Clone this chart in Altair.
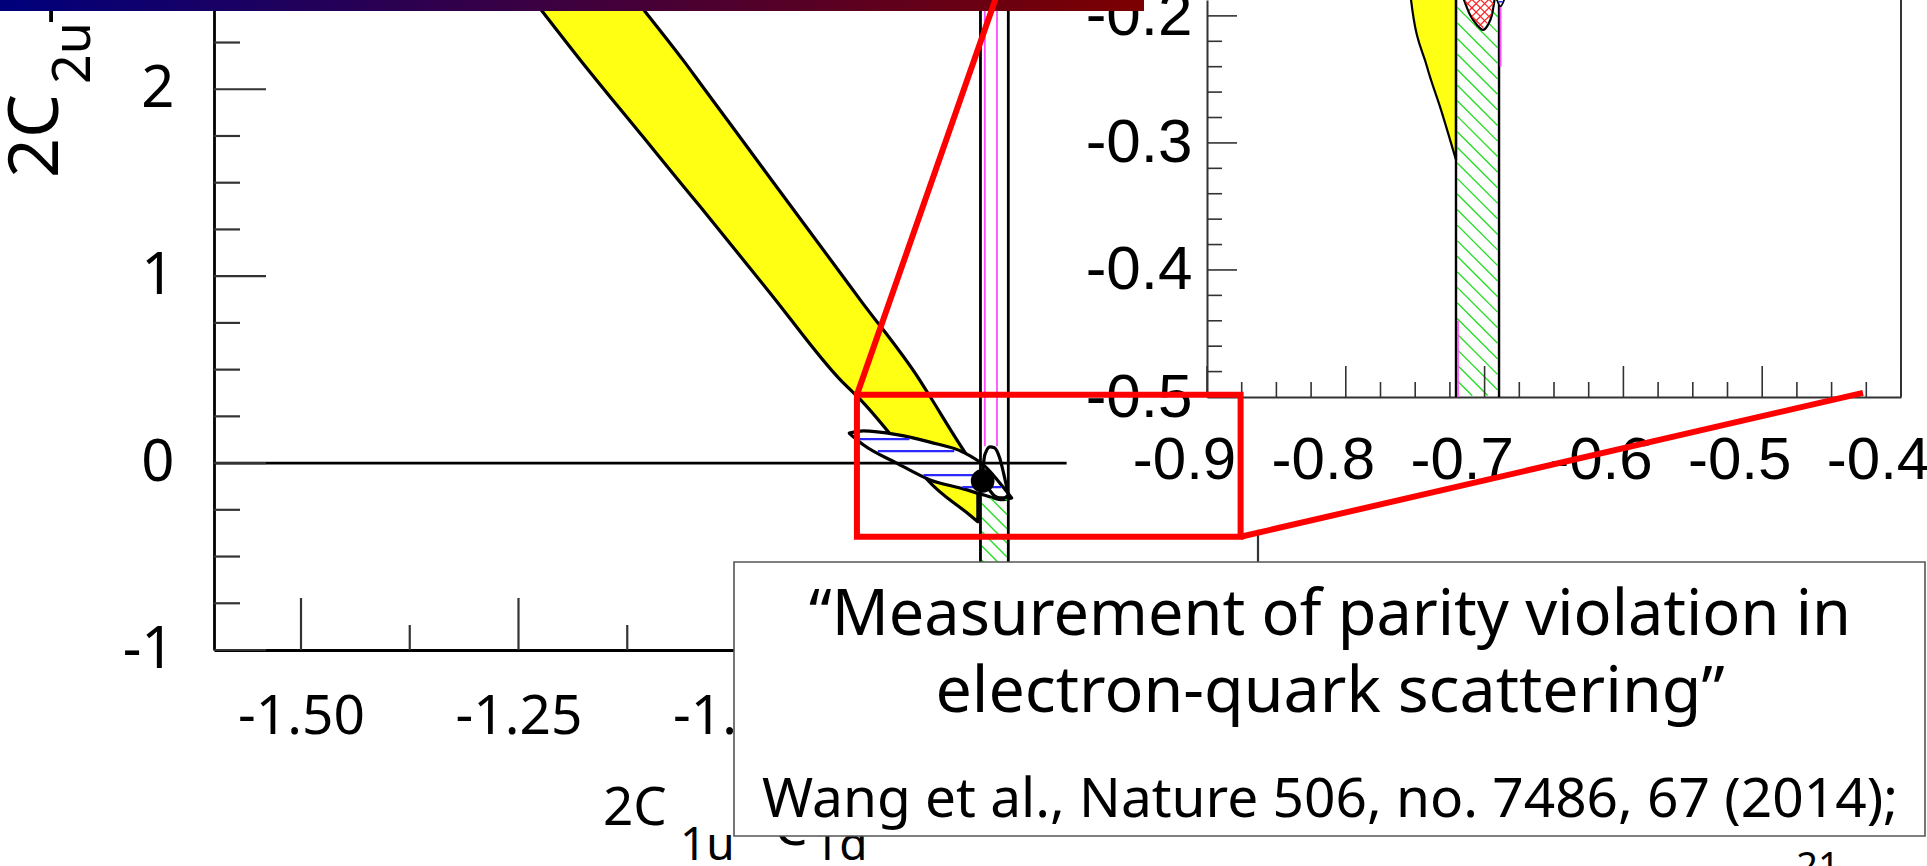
import numpy as np
import pandas as pd
import altair as alt

# ---------------- axis ranges and labelled ticks ----------------
main_x_domain = [-1.6, -0.4]
main_y_domain = [-1.0, 2.4775]
main_x_major = [-1.5, -1.25, -1.0, -0.75, -0.5]
main_y_major = [-1.0, 0.0, 1.0, 2.0]

inset_x_domain = [-0.9, -0.4]
inset_y_domain = [-0.5, -0.1875]
inset_x_major = [-0.9, -0.8, -0.7, -0.6, -0.5, -0.4]
inset_y_major = [-0.5, -0.4, -0.3, -0.2]

# ---------------- main panel regions ----------------
# yellow band: lower edge / upper edge at each x
yellow_x = [-1.26, -1.223, -1.179, -1.105, -1.061, -1.041, -0.960, -0.880, -0.857, -0.789, -0.780, -0.731, -0.722]
yellow_lo = [2.64, 2.419, 2.157, 1.735, 1.484, 1.371, 0.905, 0.445, 0.339, -0.039, -0.089, -0.279, -0.314]
yellow_hi = [3.40, 3.12, 2.85, 2.419, 2.157, 2.031, 1.52, 1.017, 0.872, 0.445, 0.379, 0.018, -0.040]

# blue hatched ellipse
blue_x = [-0.8698, -0.8537, -0.8153, -0.777, -0.7387, -0.714, -0.693, -0.6831]
blue_lo = [0.160, 0.098, 0.000, -0.090, -0.138, -0.172, -0.196, -0.187]
blue_hi = [0.160, 0.172, 0.152, 0.112, 0.058, -0.016, -0.128, -0.187]

# combined fit ellipse
fit_x = [-0.716, -0.714, -0.708, -0.703, -0.697, -0.692, -0.687]
fit_lo = [-0.025, -0.100, -0.148, -0.175, -0.186, -0.186, -0.170]
fit_hi = [-0.025, 0.044, 0.087, 0.082, 0.028, -0.063, -0.170]

# vertical band (black edges, green hatch) and the thin magenta band
band_edges = [-0.719, -0.687]
band_bottom, band_top = -1.0, 2.6
band_hatch_top = -0.18
magenta_edges = [-0.714, -0.700]
magenta_bottom = 0.09

# Standard Model point
sm_x = [-0.7165]
sm_y = [-0.0954]

# parts of the main frame left uncovered by the inset picture
zero_line_end = -0.620
right_frame_top = -0.357

# ---------------- inset regions ----------------
IN_TOP = -0.17
in_yellow_x = [-0.7535, -0.753, -0.7415, -0.7314, -0.7206]
in_yellow_lo = [-0.178, -0.1874, -0.240, -0.274, -0.3134]
in_yellow_hi = [IN_TOP] * 5
in_band_edges = [-0.7206, -0.6896]
in_red_x = [-0.7156, -0.7105, -0.7055, -0.7012, -0.6976, -0.6947, -0.6925]
in_red_lo = [-0.185, -0.1992, -0.2071, -0.2110, -0.2071, -0.1992, -0.185]
in_red_hi = [IN_TOP] * 7
in_blue_x = [-0.6915, -0.6885, -0.6855]
in_blue_lo = [-0.186, -0.1925, -0.186]
in_blue_hi = [IN_TOP] * 3
in_magenta_x = [-0.6885, -0.7192]
in_magenta_y = [-0.24, -0.5]
in_magenta_y2 = [IN_TOP, -0.44]

# ---------------- zoom annotation (main panel units) ----------------
zoom_box_x = [-0.861, -0.420]
zoom_box_y = [-0.394, 0.365]
link_x = [-0.861, -0.420]
link_y = [0.365, -0.394]
link_x2 = [-0.694, 0.2954]
link_y2 = [2.585, 0.376]

# ---------------- texts ----------------
cite_lines = ["\u201cMeasurement of parity violation in",
              "electron-quark scattering\u201d",
              "Wang et al., Nature 506, no. 7486, 67 (2014);"]
slide_number = "21"

# ---------------- layout ----------------
W, H = 1927, 866
MAIN_XR, MAIN_YR = [214, 1258], [650, 0]
INSET_XR, INSET_YR = [1207, 1901], [397, 0]
FONT = "Noto Sans"
AXFONT = "Liberation Sans"
MINUS = "replace(datum.label, '\u2212', '-')"
LW = 3.2   # contour outline width


def ppu(dom, rng):
    return abs(rng[1] - rng[0]) / abs(dom[1] - dom[0])


MSX, MSY = ppu(main_x_domain, MAIN_XR), ppu(main_y_domain, MAIN_YR)
ISX, ISY = ppu(inset_x_domain, INSET_XR), ppu(inset_y_domain, INSET_YR)

PANELS = {
    "main": (main_x_domain, MAIN_XR, main_y_domain, MAIN_YR),
    "inset": (inset_x_domain, INSET_XR, inset_y_domain, INSET_YR),
}


def sc(dom, rng):
    return alt.Scale(domain=dom, range=rng, nice=False, zero=False)


def xy(panel, xaxis=None, yaxis=None):
    xd, xr, yd, yr = PANELS[panel]
    return dict(
        x=alt.X("x", type="quantitative", scale=sc(xd, xr), axis=xaxis),
        y=alt.Y("y", type="quantitative", scale=sc(yd, yr), axis=yaxis),
    )


def rules(df, panel, color, width, xaxis=None, yaxis=None):
    return alt.Chart(df).mark_rule(color=color, strokeWidth=width, strokeCap="butt").encode(
        **xy(panel, xaxis, yaxis), x2="x2:Q", y2="y2:Q")


def region(xs, lo, hi, panel, fill, stroke="black", width=LW, interp="monotone"):
    df = pd.DataFrame({"x": xs, "y": lo, "y2": hi})
    return alt.Chart(df).mark_area(fill=fill, stroke=stroke, strokeWidth=width,
                                   interpolate=interp, strokeJoin="round").encode(
        **xy(panel), y2="y2:Q")


def hatch(xs, lo, hi, sx, sy, angle, gap, margin=1.2):
    """Hatch segments (data units) filling the region between lo and hi."""
    X = np.asarray(xs, float) * sx
    LO = np.asarray(lo, float) * sy
    HI = np.asarray(hi, float) * sy
    a = np.radians(angle)
    d = np.array([np.cos(a), np.sin(a)])
    n = np.array([-np.sin(a), np.cos(a)])
    corners = np.array([[cx, cy] for cx in (X.min(), X.max()) for cy in (LO.min(), HI.max())])
    pn, pd_ = corners @ n, corners @ d
    t = np.arange(pd_.min() - 1, pd_.max() + 1, 0.4)
    segs = []
    c = np.floor(pn.min() / gap) * gap
    while c <= pn.max():
        P = c * n[None, :] + t[:, None] * d[None, :]
        ok = (P[:, 0] >= X.min() + margin) & (P[:, 0] <= X.max() - margin)
        ok &= P[:, 1] >= np.interp(P[:, 0], X, LO) + margin
        ok &= P[:, 1] <= np.interp(P[:, 0], X, HI) - margin
        idx = np.nonzero(ok)[0]
        if len(idx) > 1:
            p0, p1 = P[idx[0]], P[idx[-1]]
            segs.append((p0[0] / sx, p0[1] / sy, p1[0] / sx, p1[1] / sy))
        c += gap
    return pd.DataFrame(segs, columns=["x", "y", "x2", "y2"])


def vlines(xs, y0, y1):
    return pd.DataFrame({"x": xs, "x2": xs, "y": [y0] * len(xs), "y2": [y1] * len(xs)})


def tick_df(vals_major, vals_minor, base, len_major, len_minor, horizontal):
    v = list(vals_major) + list(vals_minor)
    L = [len_major] * len(vals_major) + [len_minor] * len(vals_minor)
    if horizontal:   # ticks along the x axis, pointing up
        return pd.DataFrame({"x": v, "x2": v, "y": [base] * len(v), "y2": [base + l for l in L]})
    return pd.DataFrame({"x": [base] * len(v), "x2": [base + l for l in L], "y": v, "y2": v})


def axis(orient, offset, values, fmt, font, size, pad, color, width, loff=0):
    return alt.Axis(orient=orient, offset=offset, values=values, format=fmt, labelExpr=MINUS,
                    ticks=False, tickSize=0, grid=False, domainColor=color, domainWidth=width,
                    labelFont=font, labelFontSize=size, labelColor="black", labelPadding=pad,
                    labelFlush=False, labelOverlap=False, labelOffset=loff, title="")


ONE = pd.DataFrame({"k": [0]})


def pbox(x0, x1, y0, y1, **mark):
    return alt.Chart(ONE).mark_rect(**mark).encode(
        x=alt.value(x0), x2=alt.value(x1), y=alt.value(y0), y2=alt.value(y1))


def ptext(text, x, y, size, font=FONT, align="left", angle=0):
    m = dict(text=text, font=font, fontSize=size, align=align, baseline="alphabetic", color="black")
    if angle:
        m["angle"] = angle
    return alt.Chart(ONE).mark_text(**m).encode(x=alt.value(x), y=alt.value(y))


layers = []

# ---------- main panel ----------
layers.append(region(yellow_x, yellow_lo, yellow_hi, "main", "#ffff14"))
layers.append(region(blue_x, blue_lo, blue_hi, "main", "white"))
layers.append(rules(hatch(blue_x, blue_lo, blue_hi, MSX, MSY, 0, 12, margin=1.5), "main", "#2a2aff", 2.2))
layers.append(rules(hatch(band_edges, [band_bottom] * 2, [band_hatch_top] * 2, MSX, MSY, -45, 10),
                    "main", "#22dd22", 1.4))
layers.append(rules(vlines(band_edges, band_bottom, band_top), "main", "black", 2.8))
layers.append(rules(vlines(magenta_edges, magenta_bottom, band_top), "main", "#ff4dff", 1.8))
layers.append(region(fit_x, fit_lo, fit_hi, "main", "transparent"))
layers.append(rules(pd.DataFrame({"x": [main_x_domain[0]], "x2": [zero_line_end], "y": [0.0], "y2": [0.0]}),
                    "main", "black", 2.6))
layers.append(rules(vlines([main_x_domain[1]], main_y_domain[0], right_frame_top), "main", "#333333", 2.2))

mx_minor = np.round(np.arange(-1.375, -0.4, 0.25), 4)
my_minor = [v for v in np.round(np.arange(-0.75, 2.3, 0.25), 4) if abs(v - round(v)) > 1e-6]
layers.append(rules(tick_df(main_x_major, mx_minor, main_y_domain[0], 52 / MSY, 25 / MSY, True),
                    "main", "#333333", 2.2,
                    xaxis=axis("bottom", -(H - MAIN_YR[0]), main_x_major, ".2f", FONT, 55, 40, "black", 2.8)))
layers.append(rules(tick_df(main_y_major, my_minor, main_x_domain[0], 52 / MSX, 26 / MSX, False),
                    "main", "#333333", 2.2,
                    yaxis=axis("left", -MAIN_XR[0], main_y_major, "d", FONT, 58, 40, "black", 2.8)))
layers.append(alt.Chart(pd.DataFrame({"x": sm_x, "y": sm_y})).mark_circle(
    size=560, color="black", opacity=1).encode(**xy("main")))

# ---------- inset ----------
layers.append(region(in_yellow_x, in_yellow_lo, in_yellow_hi, "inset", "#ffff14", width=2.2))
layers.append(rules(hatch(in_band_edges, [-0.5, -0.5], [IN_TOP, IN_TOP], ISX, ISY, -45, 11),
                    "inset", "#22dd22", 1.3))
layers.append(rules(vlines(in_band_edges, inset_y_domain[0], IN_TOP), "inset", "black", 2.4))
layers.append(rules(pd.DataFrame({"x": in_magenta_x, "x2": in_magenta_x, "y": in_magenta_y, "y2": in_magenta_y2}),
                    "inset", "#ff4dff", 1.8))
layers.append(region(in_red_x, in_red_lo, in_red_hi, "inset", "white", width=2.2))
for ang in (45, -45):
    layers.append(rules(hatch(in_red_x, in_red_lo, in_red_hi, ISX, ISY, ang, 6), "inset", "#ff2020", 1.2))
layers.append(region(in_blue_x, in_blue_lo, in_blue_hi, "inset", "white", width=1.8))
layers.append(rules(hatch(in_blue_x, in_blue_lo, in_blue_hi, ISX, ISY, 0, 4, margin=0.5), "inset", "#2a2aff", 1.6))
layers.append(rules(vlines([inset_x_domain[1]], inset_y_domain[0], IN_TOP), "inset", "#333333", 2))

ix_minor = [v for v in np.round(np.arange(-0.875, -0.4, 0.025), 4) if abs(v * 10 - round(v * 10)) > 1e-6]
iy_minor = [v for v in np.round(np.arange(-0.48, -0.19, 0.02), 4) if abs(v * 10 - round(v * 10)) > 1e-6]
layers.append(rules(tick_df(inset_x_major, ix_minor, inset_y_domain[0], 31 / ISY, 15 / ISY, True),
                    "inset", "#333333", 1.6,
                    xaxis=axis("bottom", -(H - INSET_YR[0]), inset_x_major, ".1f", AXFONT, 60, 34, "#333333", 2, -23)))
layers.append(rules(tick_df(inset_y_major, iy_minor, inset_x_domain[0], 30 / ISX, 15 / ISX, False),
                    "inset", "#333333", 1.6,
                    yaxis=axis("left", -INSET_XR[0], inset_y_major, ".1f", AXFONT, 62, 15, "#333333", 2)))

# ---------- axis titles ----------
layers += [
    ptext("2C", 603, 825, 53),
    ptext("1u", 680, 860, 46),
    ptext("-C", 757, 845, 53),
    ptext("1d", 813, 860, 46),
    ptext("2C", 58, 178, 70, angle=270),
    ptext("2u", 90, 84, 52, angle=270),
    ptext("-", 64, 24, 50, angle=270),
]

# ---------- title bar ----------
bar_fill = alt.LinearGradient(gradient="linear", x1=0, x2=1, y1=0, y2=0,
                              stops=[alt.GradientStop(offset=0, color="#00007c"),
                                     alt.GradientStop(offset=1, color="#7c0000")])
layers.append(pbox(0, 1144, 0, 11, fill=bar_fill))

# ---------- zoom box and connectors ----------
layers.append(alt.Chart(pd.DataFrame({"x": [zoom_box_x[0]], "x2": [zoom_box_x[1]],
                                      "y": [zoom_box_y[0]], "y2": [zoom_box_y[1]]}))
              .mark_rect(filled=False, color="#ff0000", strokeWidth=6, strokeJoin="miter")
              .encode(**xy("main"), x2="x2:Q", y2="y2:Q"))
layers.append(rules(pd.DataFrame({"x": link_x, "y": link_y, "x2": link_x2, "y2": link_y2}),
                    "main", "#ff0000", 6))

# ---------- citation box ----------
layers.append(pbox(734, 1925, 562, 836, fill="white", stroke="#555555", strokeWidth=1.6))
layers += [
    ptext(cite_lines[0], 1330, 635, 63, align="center"),
    ptext(cite_lines[1], 1330, 712, 64.5, align="center"),
    ptext(cite_lines[2], 1330, 817, 55, align="center"),
    ptext(slide_number, 1818, 879, 38, align="center"),
]

chart = (
    alt.layer(*layers)
    .resolve_scale(x="independent", y="independent")
    .properties(width=W, height=H, autosize=alt.AutoSizeParams(type="none"),
                padding=0, background="white")
    .configure_view(stroke="transparent")
)

chart.save("out.html", embed_options={"renderer": "svg", "actions": False})
